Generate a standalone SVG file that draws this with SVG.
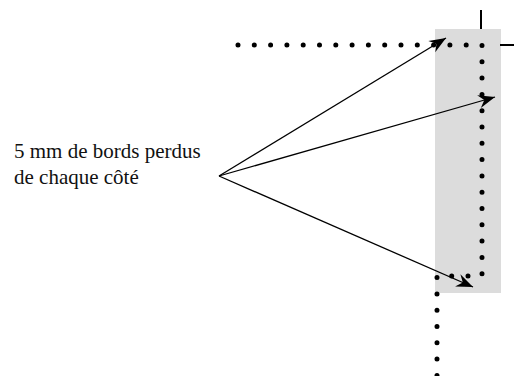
<svg xmlns="http://www.w3.org/2000/svg" width="514" height="376" viewBox="0 0 514 376">
<style>
.lbl{font-family:"Liberation Serif","Times New Roman",serif;font-size:21px;fill:#111}
.dot{stroke:#000;stroke-width:5;stroke-linecap:round;fill:none}
.arr{stroke:#000;stroke-width:1.3;fill:none;marker-end:url(#ah)}
.tick{stroke:#000;stroke-width:2;fill:none}
</style>
<defs>
<marker id="ah" markerUnits="userSpaceOnUse" markerWidth="20" markerHeight="20" viewBox="-16 -8 18 16" refX="0" refY="0" orient="auto">
<path d="M0,0 L-15,-6 L-10,0 L-15,6 Z" fill="#000"/>
</marker>
</defs>
<g id="bleed">
<rect x="435" y="29" width="66" height="264" fill="#dcdcdc"/>
</g>
<g id="cropmarks">
<line class="tick" x1="481" y1="10" x2="481" y2="29"/>
<line class="tick" x1="500" y1="45" x2="514" y2="45"/>
</g>
<g id="trim">
<path class="dot" d="M238,45 H482 V276 H437 V376" stroke-dasharray="0 16.3"/>
</g>
<g id="label">
<text class="lbl" x="14" y="158">5 mm de bords perdus</text>
<text class="lbl" x="14" y="184">de chaque côté</text>
</g>
<g id="connectors">
<line class="arr" x1="219" y1="176" x2="446" y2="38"/>
<line class="arr" x1="219" y1="176" x2="495" y2="97"/>
<line class="arr" x1="219" y1="176" x2="473" y2="287"/>
</g>
</svg>
